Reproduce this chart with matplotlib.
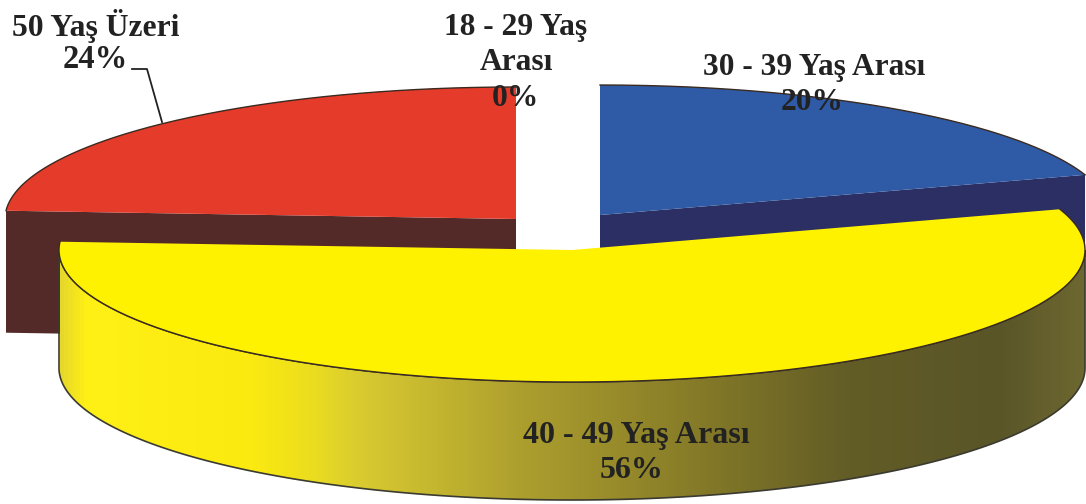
import numpy as np
import matplotlib
matplotlib.use("Agg")
import matplotlib.pyplot as plt
from matplotlib.colors import LinearSegmentedColormap
from matplotlib.patches import Polygon

# values, clockwise from the top of the pie
groups = ["18 - 29 Yaş Arası", "30 - 39 Yaş Arası", "40 - 49 Yaş Arası", "50 Yaş Üzeri"]
percents = [0, 20, 56, 24]

top_colors = ["#ffffff", "#2f5ba6", "#fff200", "#e53b2b"]
side_colors = ["#ffffff", "#2b2f63", None, "#532a28"]

# pixel geometry of every slice: centre x, centre y, radius x, radius y, depth
slice_geo = [
    (558, 217, 510, 130, 118),
    (600, 215, 510, 130, 118),
    (572, 250, 513, 132, 118),
    (516, 219, 511, 132, 122),
]

# left to right shading of the yellow wall
wall_x = [60, 85, 250, 315, 360, 520, 700, 850, 1000, 1086]
wall_colors = ["#e6d82a", "#fff015", "#fbea10", "#eadc20", "#d8ca30", "#ad9f2e",
               "#857a28", "#625c26", "#5a5528", "#6d6830"]

plt.rcParams["font.family"] = ["Liberation Serif", "DejaVu Serif"]

fig = plt.figure(figsize=(10.86, 5.04), dpi=100)
ax = fig.add_axes([0, 0, 1, 1])


def rim(geo, a0, a1, drop=0):
    cx, cy, rx, ry, _ = geo
    t = np.radians(np.linspace(a0, a1, 200))
    return np.column_stack([cx + rx * np.sin(t), cy - ry * np.cos(t) + drop])


def draw_slice(i, a0, a1, z):
    geo = slice_geo[i]
    cx, cy, rx, ry, depth = geo
    outer = rim(geo, a0, a1)
    # wall below the cut faces and below the rim
    if side_colors[i] is None:
        w0, w1 = max(a0, 90), min(a1, 270)
        wall = np.vstack([rim(geo, w0, w1), rim(geo, w1, w0, depth)])
        patch = Polygon(wall, closed=True, fc="none", ec="#3a3a30", lw=1.2, zorder=z + 0.5)
        ax.add_patch(patch)
        stops = [((x - wall_x[0]) / (wall_x[-1] - wall_x[0]), c) for x, c in zip(wall_x, wall_colors)]
        cmap = LinearSegmentedColormap.from_list("wall", stops)
        grad = np.linspace(0, 1, 512).reshape(1, -1)
        im = ax.imshow(grad, cmap=cmap, extent=(wall_x[0], wall_x[-1], 504, 0), aspect="auto", zorder=z)
        im.set_clip_path(patch)
    else:
        if a1 <= 180:
            cut = np.array([[cx, cy], outer[-1]])
        else:
            cut = np.array([outer[0], [cx, cy]])
        wall = np.vstack([cut, cut[::-1] + [0, depth]])
        ax.add_patch(Polygon(wall, closed=True, fc=side_colors[i], ec="none", zorder=z))
    face = np.vstack([[cx, cy], outer])
    ax.add_patch(Polygon(face, closed=True, fc=top_colors[i], ec="none", zorder=z + 1))
    ax.plot(outer[:, 0], outer[:, 1], color="#3a2a20", lw=1.0, zorder=z + 1.2)


slice_order = [1, 3, 2]
starts = np.cumsum([0] + percents) * 3.6
for n, i in enumerate(slice_order):
    if percents[i] > 0:
        draw_slice(i, starts[i], starts[i + 1], 2 + n * 2)

# leader from the 50+ label to its slice
ax.plot([132, 147, 162], [69, 69, 122], color="#222222", lw=1.3, zorder=10)

txt = dict(ha="center", va="center", fontweight="bold", color="#222222", zorder=11)
ax.text(96, 26, groups[3], fontsize=22.8, **txt)
ax.text(95, 60, f"{percents[3]}%", fontsize=23.5, **txt)
ax.text(516, 28, "18 - 29 Yaş", fontsize=22.7, **txt)
ax.text(516, 62, "Arası", fontsize=22.7, **txt)
ax.text(515, 98, f"{percents[0]}%", fontsize=22.7, **txt)
ax.text(814, 67, groups[1], fontsize=22.6, **txt)
ax.text(812, 102, f"{percents[1]}%", fontsize=22.6, **txt)
ax.text(636, 436, groups[2], fontsize=23, **txt)
ax.text(632, 471, f"{percents[2]}%", fontsize=23, **txt)

ax.set_xlim(0, 1086)
ax.set_ylim(504, 0)
ax.axis("off")

fig.savefig("out.png", dpi=100, facecolor="white")
